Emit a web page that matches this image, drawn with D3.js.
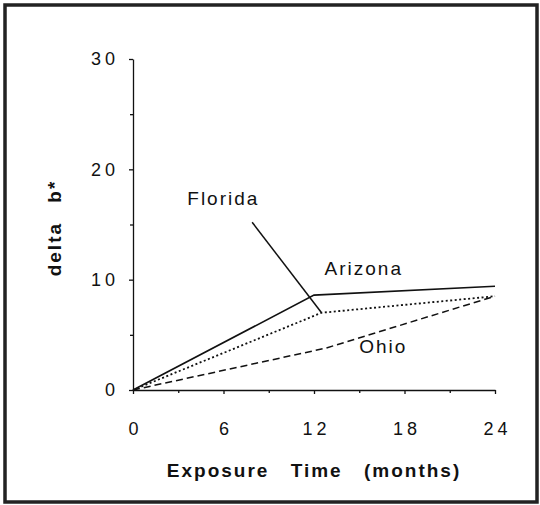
<!DOCTYPE html>
<html>
<head>
<meta charset="utf-8">
<script src="https://cdn.jsdelivr.net/npm/d3@7"></script>
<style>
  body { margin: 0; background: #fff; }
  svg { display: block; font-family: "Liberation Sans", Arial, sans-serif; }
  .axis path, .axis line { stroke: #111; stroke-width: 1.3; }
  .axis text { font-size: 18px; fill: #111; letter-spacing: 4px; }
</style>
</head>
<body>
<svg id="chart" width="540" height="505"></svg>
<script>
// values
const floridaMonths = [0, 12, 24];
const florida = [0, 8.6, 9.4];
const arizonaMonths = [0, 12.5, 24];
const arizona = [0, 7.0, 8.5];
const ohioMonths = [0, 12.8, 24];
const ohio = [0, 3.8, 8.5];

const xTicks = [0, 6, 12, 18, 24];
const xMinorTicks = [3, 9, 15, 21];
const yTicks = [0, 10, 20, 30];
const yMinorTicks = [5, 15, 25];

// label anchors in data units
const labels = [
  { text: 'Florida', month: 3.6, value: 16.8 },
  { text: 'Arizona', month: 12.7, value: 10.4 },
  { text: 'Ohio', month: 15.0, value: 3.35 },
];
const leader = [{ month: 7.9, value: 15.2 }, { month: 12.5, value: 7.0 }];

const svg = d3.select('#chart');

// frame round the whole figure
svg.append('rect')
  .attr('x', 5).attr('y', 5)
  .attr('width', 532).attr('height', 497)
  .attr('fill', 'none')
  .attr('stroke', '#222')
  .attr('stroke-width', 3.5);

const x = d3.scaleLinear().domain([0, 24]).range([133, 495]);
const y = d3.scaleLinear().domain([0, 30]).range([390, 59]);

// minor ticks first, then the labelled axis on top
svg.append('g')
  .attr('class', 'axis')
  .attr('transform', 'translate(0,390)')
  .call(d3.axisBottom(x).tickValues(xMinorTicks).tickSize(3).tickFormat(''))
  .select('.domain').remove();

svg.append('g')
  .attr('class', 'axis')
  .attr('transform', 'translate(133,0)')
  .call(d3.axisLeft(y).tickValues(yMinorTicks).tickSize(3).tickFormat(''))
  .select('.domain').remove();

svg.append('g')
  .attr('class', 'axis x')
  .attr('transform', 'translate(0,390)')
  .call(d3.axisBottom(x).tickValues(xTicks).tickSize(4).tickSizeOuter(0).tickPadding(28))
  .selectAll('text')
    .attr('dx', '2px');

svg.append('g')
  .attr('class', 'axis y')
  .attr('transform', 'translate(133,0)')
  .call(d3.axisLeft(y).tickValues(yTicks).tickSize(4).tickSizeOuter(0).tickPadding(14))
  .selectAll('text')
    .attr('dx', '4px');

const line = d3.line()
  .x(d => x(d[0]))
  .y(d => y(d[1]));

const series = [
  { months: floridaMonths, values: florida, dash: null, width: 1.6 },
  { months: arizonaMonths, values: arizona, dash: '2,2.5', width: 1.8 },
  { months: ohioMonths, values: ohio, dash: '7,4', width: 1.5 },
];

series.forEach(s => {
  svg.append('path')
    .attr('d', line(s.months.map((m, i) => [m, s.values[i]])))
    .attr('fill', 'none')
    .attr('stroke', '#111')
    .attr('stroke-width', s.width)
    .attr('stroke-dasharray', s.dash);
});

svg.append('line')
  .attr('x1', x(leader[0].month)).attr('y1', y(leader[0].value))
  .attr('x2', x(leader[1].month)).attr('y2', y(leader[1].value))
  .attr('stroke', '#111')
  .attr('stroke-width', 1.5);

svg.selectAll('.series-label')
  .data(labels)
  .enter().append('text')
    .attr('class', 'series-label')
    .attr('x', d => x(d.month))
    .attr('y', d => y(d.value))
    .style('font-size', '19px')
    .style('letter-spacing', '2px')
    .attr('fill', '#111')
    .text(d => d.text);

svg.append('text')
  .attr('x', 314)
  .attr('y', 477)
  .attr('text-anchor', 'middle')
  .style('font-size', '19px')
  .style('font-weight', 'bold')
  .style('letter-spacing', '2px')
  .style('word-spacing', '14px')
  .attr('fill', '#111')
  .text('Exposure Time (months)');

svg.append('text')
  .attr('transform', 'translate(61,228) rotate(-90)')
  .attr('text-anchor', 'middle')
  .style('font-size', '19px')
  .style('font-weight', 'bold')
  .style('letter-spacing', '2px')
  .style('word-spacing', '12px')
  .attr('fill', '#111')
  .text('delta b*');
</script>
</body>
</html>
